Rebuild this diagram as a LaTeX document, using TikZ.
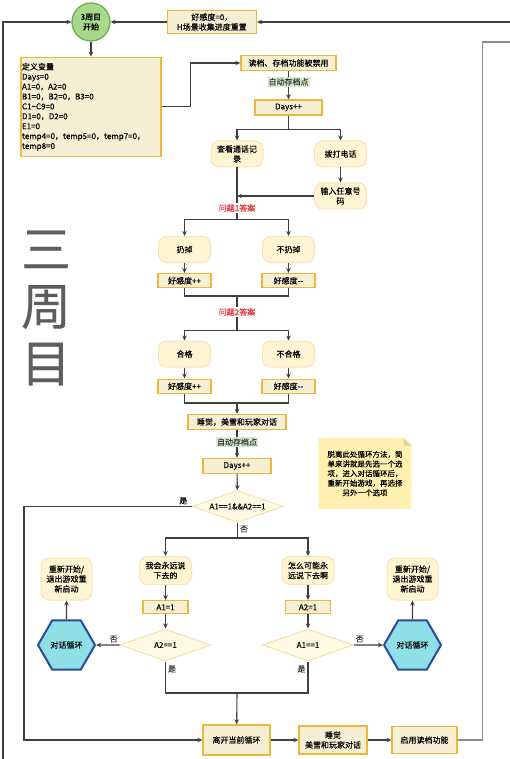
\documentclass[tikz,border=0pt]{standalone}
\usepackage{fontspec}
\setmainfont{Noto Sans CJK SC}
\newfontfamily\fcfamily{Noto Sans CJK SC}[FakeBold=0.35]
\usetikzlibrary{
  arrows.meta,
  shapes.geometric,
  positioning,
  calc,
  backgrounds
}
\definecolor{fcProc}{HTML}{F7EFD4}
\definecolor{fcProcLine}{HTML}{EBB73C}
\definecolor{fcTerm}{HTML}{FFF5D3}
\definecolor{fcTermLine}{HTML}{FBE2B8}
\definecolor{fcDec}{HTML}{FFF9E3}
\definecolor{fcDecLine}{HTML}{F1E2AE}
\definecolor{fcLoop}{HTML}{8EDFE6}
\definecolor{fcLoopLine}{HTML}{2C4A9A}
\definecolor{fcStart}{HTML}{A8D88C}
\definecolor{fcStartLine}{HTML}{6CAF4D}
\definecolor{fcNote}{HTML}{FFF2B0}
\definecolor{fcFold}{HTML}{E3D69A}
\definecolor{fcSave}{HTML}{D6ECCB}
\definecolor{fcRed}{HTML}{E2333A}
\definecolor{fcLine}{HTML}{3F3F3F}
\definecolor{fcMute}{HTML}{8A8A8A}
\definecolor{fcBig}{HTML}{5E5E5E}
\newcommand{\fcfont}{\fcfamily\fontsize{8}{9.9}\selectfont}
\tikzset{
  fcnode/.style={
    draw, font=\fcfont, align=center, inner sep=1pt, text=black
  },
  procbox/.style={fcnode, fill=fcProc, draw=fcProcLine, line width=1.4pt},
  termbox/.style={fcnode, fill=fcTerm, draw=fcTermLine, line width=1pt,
    rounded corners=8pt, minimum width=52pt, minimum height=26pt},
  decision/.style={fcnode, diamond, aspect=2.8, fill=fcDec, draw=fcDecLine,
    line width=1pt, minimum width=91pt, minimum height=32pt, inner sep=0pt},
  loopbox/.style={fcnode, regular polygon, regular polygon sides=6,
    minimum size=57pt, inner sep=0pt, fill=fcLoop, draw=fcLoopLine, line width=2pt},
  startnode/.style={fcnode, circle, minimum size=38pt, inner sep=0pt,
    fill=fcStart, draw=fcStartLine, line width=1.3pt},
  notebox/.style={font=\fcfamily\fontsize{7.5}{9.6}\selectfont, align=center,
    minimum width=93pt, minimum height=71pt, inner sep=0pt},
  savetag/.style={font=\fcfont, fill=fcSave, inner sep=1pt},
  redtag/.style={font=\fcfont, text=fcRed, inner sep=1pt},
  yesno/.style={font=\fcfont, inner sep=2pt},
  bigtag/.style={font=\fcfamily\fontsize{50}{57}\selectfont, text=fcBig, align=center},
  flow/.style={-{Stealth[length=5pt, width=4.5pt]}, line width=1.1pt, fcLine},
  netline/.style={line width=1.1pt, fcLine},
  backflow/.style={-{Stealth[length=5pt, width=4.5pt]}, line width=2.2pt, fcLine},
  retline/.style={line width=1.1pt, fcMute}
}
\begin{document}
\begin{tikzpicture}[x=1pt, y=-1pt, node distance=10pt]
  \useasboundingbox (0,0) rectangle (510,759);

  % title down the left side
  \node[bigtag] (round) at (46,308) {三\\周\\目};

  % start and variables
  \node[startnode] (start) at (91,22) {3周目\\开始};
  \node[procbox, minimum width=89pt, minimum height=23pt, right=56pt of start] (reset) {好感度=0，\\H场景收集进度重置};
  \node[procbox, below=15pt of start, text width=138pt, align=left, minimum height=99pt] (vars) {定义变量\\Days=0\\A1=0，A2=0\\B1=0，B2=0，B3=0\\C1\textasciitilde C9=0\\D1=0，D2=0\\E1=0\\temp4=0，temp5=0，temp7=0，\\temp8=0};

  % first day
  \node[procbox, minimum width=95pt, minimum height=15pt] (readsave) at (288.5,63) {读档、存档功能被禁用};
  \node[procbox, minimum width=67pt, minimum height=15pt, below=28pt of readsave] (days1) {Days+{}+};
  \node[termbox] (calllog) at (237,154) {查看通话记\\录};
  \node[termbox] (dial) at (340.5,154) {拨打电话};
  \node[termbox, below=15pt of dial] (input) {输入任意号\\码};
  \node[redtag] (q1) at (237,208) {问题1答案};
  \node[termbox] (toss) at (184.5,249.5) {扔掉};
  \node[termbox] (notoss) at (288.5,249.5) {不扔掉};
  \node[procbox, minimum width=53pt, minimum height=14pt, below=10pt of toss] (good1) {好感度+{}+};
  \node[procbox, minimum width=53pt, minimum height=14pt, below=10pt of notoss] (bad1) {好感度-{}-};
  \coordinate (m1) at (237,296);
  \node[redtag] (q2) at (237,312) {问题2答案};
  \node[termbox] (pass) at (184.5,354) {合格};
  \node[termbox] (fail) at (288.5,354) {不合格};
  \node[procbox, minimum width=53pt, minimum height=14pt, below=11pt of pass] (good2) {好感度+{}+};
  \node[procbox, minimum width=53pt, minimum height=14pt, below=11pt of fail] (bad2) {好感度-{}-};
  \coordinate (m2) at (237,403);
  \node[procbox, minimum width=98pt, minimum height=15pt] (sleep) at (237,422) {睡觉，美雪和玩家对话};

  % second day
  \node[procbox, minimum width=68pt, minimum height=15pt] (days2) at (237,466) {Days+{}+};
  \node[decision] (chk) at (237.5,506.5) {A1==1\&\&A2==1};
  \node[notebox] (note) at (365,473.5) {脱离此处循环方法，简\\单来讲就是先选一个选\\项，进入对话循环后，\\重新开始游戏，再选择\\另外一个选项};
  \node[termbox, minimum height=28pt] (say1) at (165.5,570.5) {我会永远说\\下去的};
  \node[termbox, minimum height=28pt] (say2) at (308,570.5) {怎么可能永\\远说下去啊};
  \node[procbox, minimum width=45pt, minimum height=13pt, below=15pt of say1] (setA1) {A1=1};
  \node[procbox, minimum width=45pt, minimum height=13pt, below=15pt of say2] (setA2) {A2=1};
  \node[decision] (chkA2) at (165.5,645) {A2==1};
  \node[decision] (chkA1) at (308,645) {A1==1};
  \node[loopbox] (loopL) at (66.5,645) {对话循环};
  \node[loopbox] (loopR) at (412.5,645) {对话循环};
  \node[termbox, minimum width=51pt, minimum height=42pt] (restartL) at (66.5,579) {重新开始/\\退出游戏重\\新启动};
  \node[termbox, minimum width=51pt, minimum height=42pt] (restartR) at (412.5,579) {重新开始/\\退出游戏重\\新启动};
  \coordinate (m3) at (237,693);

  % way out
  \node[procbox, minimum width=67pt, minimum height=30pt] (leave) at (236.5,740) {离开当前循环};
  \node[procbox, minimum width=68pt, minimum height=28pt] (sleep2) at (333,740) {睡觉\\美雪和玩家对话};
  \node[procbox, minimum width=65pt, minimum height=27pt] (enable) at (424.5,740) {启用读档功能};
  \coordinate (leftrail) at (24,740);
  \coordinate (loopin) at (3,760);
  \coordinate (retin) at (511,22);
  \coordinate (retout) at (511,42);

  % sticky note
  \begin{scope}[on background layer]
    \fill[fcNote] (note.north west) -- ($(note.north east)+(-8pt,0pt)$) -- ($(note.north east)+(0pt,-8pt)$) |- (note.south west) -- cycle;
    \fill[fcFold] ($(note.north east)+(-8pt,0pt)$) -- ($(note.north east)+(0pt,-8pt)$) -- ($(note.north east)+(-8pt,-8pt)$) -- cycle;
  \end{scope}

  % connectors
  \draw[backflow] (loopin) |- (start.west);
  \draw[flow] (retin) -- (reset.east);
  \draw[flow] (reset.west) -- (start.east);
  \draw[flow] (start) -- (vars);
  \draw[flow] (vars.east) -- ++(29,0) |- (readsave.west);
  \draw[flow] (readsave) -- (days1) node[savetag, pos=0.38] (auto1) {自动存档点};
  \draw[flow] (days1.south) -- ++(0,14) -| (calllog.north);
  \draw[flow] (days1.south) -- ++(0,14) -| (dial.north);
  \draw[flow] (dial) -- (input);
  \draw[netline] (calllog.south) -- (q1.north);
  \draw[flow] (input.west) -- (input.west -| calllog.south);
  \draw[flow] (q1.south) -- ++(0,7) -| (toss.north);
  \draw[flow] (q1.south) -- ++(0,7) -| (notoss.north);
  \draw[flow] (toss) -- (good1);
  \draw[flow] (notoss) -- (bad1);
  \draw[netline] (good1.south) |- (m1) -| (bad1.south);
  \draw[netline] (m1) -- (q2.north);
  \draw[flow] (q2.south) -- ++(0,14) -| (pass.north);
  \draw[flow] (q2.south) -- ++(0,14) -| (fail.north);
  \draw[flow] (pass) -- (good2);
  \draw[flow] (fail) -- (bad2);
  \draw[netline] (good2.south) |- (m2) -| (bad2.south);
  \draw[flow] (m2) -- (sleep);
  \draw[flow] (sleep) -- (days2) node[savetag, pos=0.43] (auto2) {自动存档点};
  \draw[flow] (days2) -- (chk);
  \draw[flow] (chk.west) -| (leftrail) -- (leave.west);
  \node[yesno, above left=0pt and 2pt of chk.west] (yes0) {是};
  \draw[flow] (chk.south) -- node[yesno, right, pos=0.4] (no0) {否} ++(0,15) -| (say1.north);
  \draw[flow] (chk.south) -- ++(0,15) -| (say2.north);
  \draw[flow] (say1) -- (setA1);
  \draw[flow] (setA1) -- (chkA2);
  \draw[flow] (say2) -- (setA2);
  \draw[flow] (setA2) -- (chkA1);
  \draw[flow] (chkA2.west) -- node[yesno, above, pos=0.25] (no1) {否} (loopL.east);
  \draw[flow] (chkA1.east) -- node[yesno, above, pos=0.2] (no2) {否} (loopR.west);
  \draw[flow] (loopL) -- (restartL);
  \draw[flow] (loopR) -- (restartR);
  \draw[netline] (chkA2.south) |- node[yesno, right, pos=0.12] (yes1) {是} (m3);
  \draw[netline] (chkA1.south) |- node[yesno, left, pos=0.12] (yes2) {是} (m3);
  \draw[flow] (m3) -- (leave);
  \draw[flow] (leave) -- (sleep2);
  \draw[flow] (sleep2) -- (enable);
  \draw[retline] (enable.east) -- ++(25,0) |- (retout);
\end{tikzpicture}
\end{document}
